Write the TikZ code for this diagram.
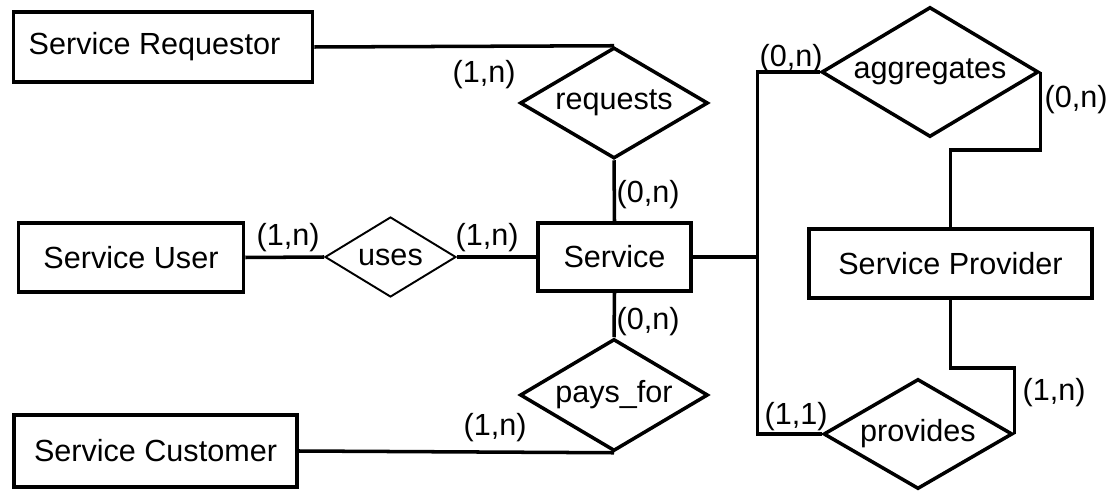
\documentclass[tikz,border=0pt]{standalone}
\usepackage{fontspec}
\setmainfont{Liberation Sans}
\usetikzlibrary{shapes.geometric}
\begin{document}
\begin{tikzpicture}[line width=1pt, font=\fontsize{8.7}{10}\selectfont,
	entity/.style={draw, rectangle, inner sep=0pt, minimum height=0.69cm},
	relation/.style={draw, diamond, aspect=1.7, inner sep=0pt},
	card/.style={inner sep=0pt}]
		\useasboundingbox (0,0) rectangle (11.17,-4.91);
		
		\node[entity, minimum width=2.99cm, minimum height=0.70cm] (req) at (1.63,-0.47) {Service Requestor\hspace*{0.17cm}};
		\node[entity, minimum width=2.25cm] (user) at (1.31,-2.575) {Service User};
		\node[entity, minimum width=2.83cm, minimum height=0.72cm] (cust) at (1.555,-4.51) {Service Customer};
		\node[entity, minimum width=1.53cm, minimum height=0.68cm] (service) at (6.145,-2.57) {Service};
		\node[entity, minimum width=2.83cm] (provider) at (9.505,-2.635) {Service Provider};
		
		\node[relation, minimum width=1.88cm, minimum height=1.11cm] (requests) at (6.14,-1.03) {requests};
		\node[relation, minimum width=1.31cm, minimum height=0.80cm, line width=0.55pt] (uses) at (3.905,-2.57) {uses};
		\node[relation, minimum width=1.88cm, minimum height=1.12cm] (paysfor) at (6.14,-3.95) {pays\_for};
		\node[relation, minimum width=2.17cm, minimum height=1.30cm] (aggregates) at (9.30,-0.72) {aggregates};
		\node[relation, minimum width=1.89cm, minimum height=1.10cm] (provides) at (9.18,-4.34) {provides};
		
		\node[card] (c1) at (4.84,-0.75) {(1,n)};
		\node[card] (c2) at (6.48,-1.95) {(0,n)};
		\node[card] (c3) at (2.88,-2.38) {(1,n)};
		\node[card] (c4) at (4.87,-2.38) {(1,n)};
		\node[card] (c5) at (6.48,-3.22) {(0,n)};
		\node[card] (c6) at (4.95,-4.28) {(1,n)};
		\node[card] (c7) at (7.91,-0.59) {(0,n)};
		\node[card] (c8) at (10.76,-1.00) {(0,n)};
		\node[card] (c9) at (7.96,-4.17) {(1,1)};
		\node[card] (c10) at (10.54,-3.93) {(1,n)};
		
		\draw[-] (req.east) to (requests.north);
		\draw[-] (requests.south) to (service.north);
		\draw[-] (user.east) to (uses.west);
		\draw[-] (uses.east) to (service.west);
		\draw[-] (service.south) to (paysfor.north);
		\draw[-] (cust.east) to (paysfor.south);
		\draw[-] (service.east) -- ++(0.645,0) coordinate (jn);
		\draw[-] (aggregates.west) -- (aggregates.west -| jn) -- (provides.west -| jn) -- (provides.west);
		\draw[-] (aggregates.east) -- ++(0,-0.78) -| (provider.north);
		\draw[-] (provider.south) -- ++(0,-0.68) -| (provides.east);
		
	\end{tikzpicture}
\end{document}
